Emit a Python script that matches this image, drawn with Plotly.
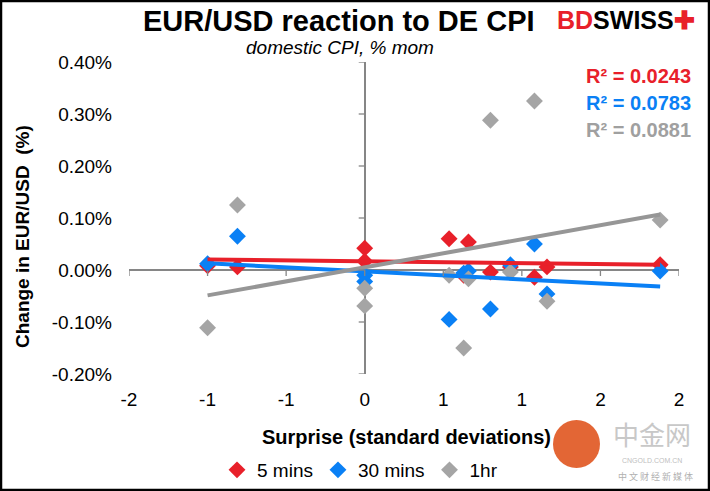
import numpy as np
import plotly.graph_objects as go

# ---- data ----
surprise = [-1.0, -0.81, 0.0, 0.0, 0.537, 0.63, 0.66, 0.80, 0.927, 1.08, 1.16, 1.88]
mins5 = [0.008, 0.006, 0.042, 0.017, 0.060, -0.010, 0.054, -0.004, 0.006, -0.014, 0.006, 0.010]
mins30 = [0.012, 0.065, -0.010, -0.022, -0.095, -0.006, -0.002, -0.075, 0.010, 0.050, -0.046, -0.002]
hr1 = [-0.111, 0.125, -0.035, -0.069, -0.010, -0.150, -0.017, 0.288, -0.004, 0.325, -0.060, 0.096]
series_names = ["5 mins", "30 mins", "1hr"]
r2_labels = ["R² = 0.0243", "R² = 0.0783", "R² = 0.0881"]
x_tickvals = [-1.5, -1.0, -0.5, 0.0, 0.5, 1.0, 1.5, 2.0]
x_ticktext = ["-2", "-1", "-1", "0", "1", "1", "2", "2"]
y_tickvals = [-0.2, -0.1, 0.0, 0.1, 0.2, 0.3, 0.4]
y_ticktext = ["-0.20%", "-0.10%", "0.00%", "0.10%", "0.20%", "0.30%", "0.40%"]

colors = ["#E8202A", "#0A80F5", "#A5A5A5"]
line_colors = ["#E8202A", "#0A80F5", "#969696"]
label_colors = ["#E8202A", "#0A80F5", "#A0A0A0"]

W, H = 710, 491
L, R, T, B = 129, 31, 62, 117
PW, PH = W - L - R, H - T - B


def px(x):
    return (x - L) / PW


def py(y):
    return (H - B - y) / PH


FONT = "Liberation Sans, Arial, sans-serif"

fig = go.Figure()
for name, ys, c in zip(series_names, [mins5, mins30, hr1], colors):
    fig.add_trace(go.Scatter(
        x=surprise, y=ys, mode="markers", name=name,
        marker=dict(symbol="diamond", size=13, color=c, line=dict(width=0)),
    ))

# linear trend lines (least squares, over the data's x span)
xs = np.array(surprise)
xline = np.array([xs.min(), xs.max()])
for ys, c in zip([mins5, mins30, hr1], line_colors):
    k, b = np.polyfit(xs, np.array(ys), 1)
    fig.add_trace(go.Scatter(
        x=xline, y=k * xline + b, mode="lines", showlegend=False,
        line=dict(color=c, width=4), hoverinfo="skip",
    ))

shapes = []
# tick marks on the crossing axes
for v in x_tickvals:
    shapes.append(dict(type="line", xref="x", yref="y", ysizemode="pixel", yanchor=0,
                       x0=v, x1=v, y0=-6, y1=0, line=dict(color="#868686", width=1.3)))
for v in y_tickvals:
    shapes.append(dict(type="line", xref="x", yref="y", xsizemode="pixel", xanchor=0,
                       y0=v, y1=v, x0=-6, x1=0, line=dict(color="#868686", width=1.3)))
# outer border
shapes.append(dict(type="rect", xref="paper", yref="paper", x0=px(1), x1=px(709), y0=py(490), y1=py(1),
                   line=dict(color="black", width=2.5), layer="above"))
# watermark circle
shapes.append(dict(type="circle", xref="paper", yref="paper", x0=px(553), x1=px(600), y0=py(468), y1=py(420),
                   fillcolor="#E0551F", line=dict(width=0), opacity=0.9))

annotations = [
    dict(text="<b>EUR/USD reaction to DE CPI</b>", x=px(339), y=py(21), xref="paper", yref="paper",
         showarrow=False, font=dict(family=FONT, size=29, color="black"),
         xanchor="center", yanchor="middle"),
    dict(text="<i>domestic CPI, % mom</i>", x=px(340), y=py(48), xref="paper", yref="paper",
         showarrow=False, font=dict(family=FONT, size=19, color="black"), xanchor="center", yanchor="middle"),
    dict(text="<b><span style='color:#E8202A'>BD</span>SWISS<span style='color:#E8202A'>✚</span></b>",
         x=px(697), y=py(20), xref="paper", yref="paper", showarrow=False,
         font=dict(family=FONT, size=25, color="black"),
         xanchor="right", yanchor="middle"),
    dict(text="<b>Change in EUR/USD  (%)</b>", x=px(22), y=py(237), xref="paper", yref="paper",
         showarrow=False, textangle=-90, font=dict(family=FONT, size=19, color="black"),
         xanchor="center", yanchor="middle"),
    dict(text="<b>Surprise (standard deviations)</b>", x=px(406), y=py(437), xref="paper", yref="paper",
         showarrow=False, font=dict(family=FONT, size=20, color="black"), xanchor="center", yanchor="middle"),
    dict(text="中金网", x=px(652), y=py(433), xref="paper", yref="paper", showarrow=False,
         font=dict(family="Noto Sans CJK SC", size=26, color="#C8C8C8"), xanchor="center", yanchor="middle"),
    dict(text="CNGOLD.COM.CN", x=px(652), y=py(461), xref="paper", yref="paper", showarrow=False,
         font=dict(family=FONT, size=7, color="#C0C0C0"), xanchor="center", yanchor="middle"),
    dict(text="中 文 财 经 新 媒 体", x=px(655), y=py(476), xref="paper", yref="paper", showarrow=False,
         font=dict(family="Noto Sans CJK SC", size=9, color="#B0B0B0"), xanchor="center", yanchor="middle"),
]
for i, (lbl, c) in enumerate(zip(r2_labels, label_colors)):
    annotations.append(dict(text="<b>" + lbl + "</b>", x=px(693), y=py(76 + 27 * i), xref="paper", yref="paper",
                            showarrow=False, font=dict(family=FONT, size=20, color=c),
                            xanchor="right", yanchor="middle"))

fig.update_layout(
    width=W, height=H,
    margin=dict(l=L, r=R, t=T, b=B, pad=0, autoexpand=False),
    paper_bgcolor="white", plot_bgcolor="white",
    font=dict(family=FONT, size=19, color="black"),
    showlegend=True,
    legend=dict(orientation="h", x=360 / W, y=1 - 470 / H, xref="container", yref="container",
                xanchor="center", yanchor="middle", font=dict(size=19), itemwidth=30,
                bgcolor="rgba(0,0,0,0)"),
    xaxis=dict(range=[-1.5, 2.0], tickvals=x_tickvals, ticktext=x_ticktext, showgrid=False,
               zeroline=True, zerolinecolor="#868686", zerolinewidth=1.5, showline=False,
               ticks="", ticklabelstandoff=12, tickfont=dict(size=19)),
    yaxis=dict(range=[-0.2, 0.4], tickvals=y_tickvals, ticktext=y_ticktext, showgrid=False,
               zeroline=True, zerolinecolor="#868686", zerolinewidth=1.5, showline=False,
               ticks="", ticklabelstandoff=16, tickfont=dict(size=19)),
    shapes=shapes,
    annotations=annotations,
)

fig.write_html("out.html")
